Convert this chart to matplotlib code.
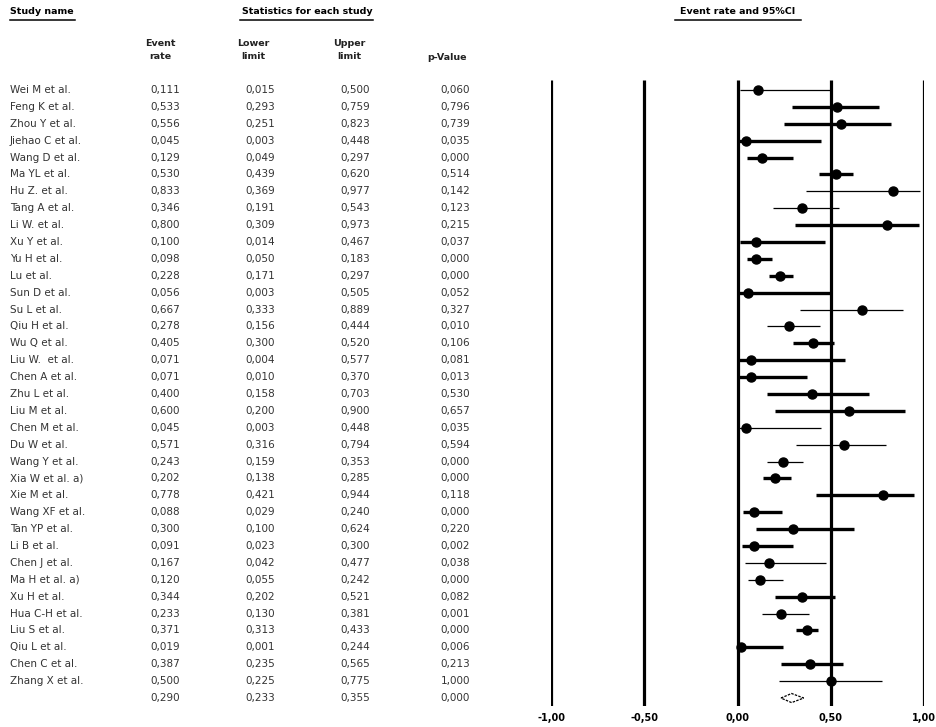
import matplotlib
matplotlib.use("Agg")
import matplotlib.pyplot as plt
from matplotlib.transforms import blended_transform_factory
from matplotlib.lines import Line2D
from matplotlib.patches import Polygon

# --- data ---
studies = [
    "Wei M et al.", "Feng K et al.", "Zhou Y et al.", "Jiehao C et al.", "Wang D et al.",
    "Ma YL et al.", "Hu Z. et al.", "Tang A et al.", "Li W. et al.", "Xu Y et al.",
    "Yu H et al.", "Lu et al.", "Sun D et al.", "Su L et al.", "Qiu H et al.",
    "Wu Q et al.", "Liu W.  et al.", "Chen A et al.", "Zhu L et al.", "Liu M et al.",
    "Chen M et al.", "Du W et al.", "Wang Y et al.", "Xia W et al. a)", "Xie M et al.",
    "Wang XF et al.", "Tan YP et al.", "Li B et al.", "Chen J et al.", "Ma H et al. a)",
    "Xu H et al.", "Hua C-H et al.", "Liu S et al.", "Qiu L et al.", "Chen C et al.",
    "Zhang X et al.",
]
event_rate = [0.111, 0.533, 0.556, 0.045, 0.129, 0.530, 0.833, 0.346, 0.800, 0.100,
              0.098, 0.228, 0.056, 0.667, 0.278, 0.405, 0.071, 0.071, 0.400, 0.600,
              0.045, 0.571, 0.243, 0.202, 0.778, 0.088, 0.300, 0.091, 0.167, 0.120,
              0.344, 0.233, 0.371, 0.019, 0.387, 0.500]
lower = [0.015, 0.293, 0.251, 0.003, 0.049, 0.439, 0.369, 0.191, 0.309, 0.014,
         0.050, 0.171, 0.003, 0.333, 0.156, 0.300, 0.004, 0.010, 0.158, 0.200,
         0.003, 0.316, 0.159, 0.138, 0.421, 0.029, 0.100, 0.023, 0.042, 0.055,
         0.202, 0.130, 0.313, 0.001, 0.235, 0.225]
upper = [0.500, 0.759, 0.823, 0.448, 0.297, 0.620, 0.977, 0.543, 0.973, 0.467,
         0.183, 0.297, 0.505, 0.889, 0.444, 0.520, 0.577, 0.370, 0.703, 0.900,
         0.448, 0.794, 0.353, 0.285, 0.944, 0.240, 0.624, 0.300, 0.477, 0.242,
         0.521, 0.381, 0.433, 0.244, 0.565, 0.775]
p_value = [0.060, 0.796, 0.739, 0.035, 0.000, 0.514, 0.142, 0.123, 0.215, 0.037,
           0.000, 0.000, 0.052, 0.327, 0.010, 0.106, 0.081, 0.013, 0.530, 0.657,
           0.035, 0.594, 0.000, 0.000, 0.118, 0.000, 0.220, 0.002, 0.038, 0.000,
           0.082, 0.001, 0.000, 0.006, 0.213, 1.000]
summary = (0.290, 0.233, 0.355, 0.000)
x_ticks = [-1.0, -0.5, 0.0, 0.5, 1.0]

# line style per row (1 = thick CI line, 0 = thin)
thick = [0, 1, 1, 1, 1, 1, 0, 0, 1, 1, 1, 1, 1, 0, 0, 1, 1, 1, 1, 1,
         0, 0, 0, 1, 1, 1, 1, 1, 0, 0, 1, 0, 1, 1, 1, 0]


def fmt(v):
    return f"{v:.3f}".replace(".", ",")


W, H = 936, 727
fig = plt.figure(figsize=(W / 100, H / 100), dpi=100)
plt.rcParams["font.family"] = ["DejaVu Sans"]

n = len(studies)
row_h = 16.89
y_top, y_bot = -0.6, n + 0.5
ax = fig.add_axes([551 / W, 1 - (90 + y_bot * row_h) / H,
                   373 / W, (y_bot - y_top) * row_h / H])
ax.set_xlim(-1, 1)
ax.set_ylim(y_bot, y_top)
for s in ax.spines.values():
    s.set_visible(False)
ax.set_yticks([])
ax.set_xticks(x_ticks)
ax.set_xticklabels([fmt(t)[:-1] for t in x_ticks], fontsize=7, fontweight="bold")
ax.tick_params(axis="x", length=0, pad=5)

ax.vlines(x_ticks, y_bot, y_top, color="black", lw=2.3, zorder=1)

rows = list(range(n))
for i in rows:
    ax.hlines(i, lower[i], upper[i], color="black",
              lw=2.4 if thick[i] else 0.9, zorder=2)
ax.plot(event_rate, rows, "o", color="black", ms=6.5, zorder=3)

# summary diamond
est, lo, hi, _ = summary
dh = 0.27
ax.add_patch(Polygon([(lo, n), (est, n - dh), (hi, n), (est, n + dh)],
                     closed=True, facecolor="white", edgecolor="black",
                     lw=0.9, ls=(0, (2, 1)), zorder=3))

# --- table on the left ---
tr = blended_transform_factory(fig.transFigure, ax.transData)
txt = dict(fontsize=7.5, color="#333333", va="center", transform=tr)
for i in rows:
    fig.text(10 / W, i, studies[i], ha="left", **txt)
    fig.text(180 / W, i, fmt(event_rate[i]), ha="right", **txt)
    fig.text(275 / W, i, fmt(lower[i]), ha="right", **txt)
    fig.text(370 / W, i, fmt(upper[i]), ha="right", **txt)
    fig.text(470 / W, i, fmt(p_value[i]), ha="right", **txt)
fig.text(180 / W, n, fmt(summary[0]), ha="right", **txt)
fig.text(275 / W, n, fmt(summary[1]), ha="right", **txt)
fig.text(370 / W, n, fmt(summary[2]), ha="right", **txt)
fig.text(470 / W, n, fmt(summary[3]), ha="right", **txt)

# --- headers ---
hdr = dict(fontsize=6.8, fontweight="bold", color="black", va="center")
fig.text(10 / W, 1 - 12 / H, "Study name", ha="left", **hdr)
fig.text(307 / W, 1 - 12 / H, "Statistics for each study", ha="center", **hdr)
fig.text(738 / W, 1 - 12 / H, "Event rate and 95%CI", ha="center", **hdr)
for x0, x1 in [(10, 75), (240, 373), (675, 801)]:
    fig.add_artist(Line2D([x0 / W, x1 / W], [1 - 20 / H, 1 - 20 / H],
                          transform=fig.transFigure, color="black", lw=1.1))

sub = dict(fontsize=6.8, fontweight="bold", color="#222222", ha="center",
           va="center", linespacing=1.5)
fig.text(160 / W, 1 - 50 / H, "Event\nrate", **sub)
fig.text(253 / W, 1 - 50 / H, "Lower\nlimit", **sub)
fig.text(349 / W, 1 - 50 / H, "Upper\nlimit", **sub)
fig.text(447 / W, 1 - 57 / H, "p-Value", **sub)

fig.savefig("out.png", dpi=100, facecolor="white")
plt.close(fig)
